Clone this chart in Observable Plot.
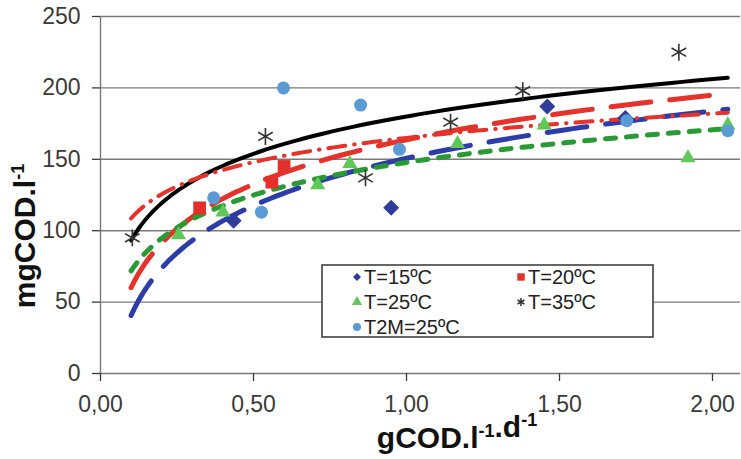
<!DOCTYPE html>
<html>
<head>
<meta charset="utf-8">
<script src="https://cdn.jsdelivr.net/npm/d3@7"></script>
<script src="https://cdn.jsdelivr.net/npm/@observablehq/plot@0.6"></script>
<style>
  body { margin: 0; background: #fff; }
  #chart { width: 741px; height: 459px; }
</style>
</head>
<body>
<div id="chart"></div>
<script>
// Axis ticks
const yTicks = [0, 50, 100, 150, 200, 250];
const xTicks = [0, 0.5, 1, 1.5, 2];

// Measured points per series (loading rate gCOD/l/d, concentration mgCOD/l)
const t15X = [0.435, 0.95, 1.46, 1.715];
const t15Y = [107, 116, 187, 179];
const t20X = [0.324, 0.56, 0.60];
const t20Y = [116, 134, 145];
const t25X = [0.255, 0.40, 0.71, 0.815, 1.167, 1.45, 1.92, 2.05];
const t25Y = [97, 113, 132, 147, 161, 174, 151, 174];
const t35X = [0.104, 0.539, 0.866, 1.144, 1.38, 1.89];
const t35Y = [95, 166, 137, 176, 198, 225];
const t2mX = [0.37, 0.526, 0.598, 0.85, 0.977, 1.72, 2.05];
const t2mY = [123, 113, 200, 188, 157, 177, 170];

// Logarithmic trendlines y = a·ln(x) + b, one per series
const seriesNames = ["T=15ºC", "T=20ºC", "T=25ºC", "T=35ºC", "T2M=25ºC"];
const trendA = [47.8, 45.0, 33.0, 37.7, 24.5];
const trendB = [150.7, 163.7, 147.8, 180.0, 165.0];
const trendRange = [0.1, 2.05];

const pts = (xs, ys) => xs.map((x, i) => ({x, y: ys[i]}));

function trend(k) {
  const [x0, x1] = trendRange;
  return d3.range(0, 161).map(i => {
    const x = x0 * Math.pow(x1 / x0, i / 160);
    return {x, y: trendA[k] * Math.log(x) + trendB[k]};
  });
}

const trendStyle = [
  {stroke: "#2c3ca8", strokeWidth: 5, strokeDasharray: "40,19"},
  {stroke: "#e5322b", strokeWidth: 5, strokeDasharray: "40,19"},
  {stroke: "#2a9a36", strokeWidth: 5, strokeDasharray: "10,11"},
  {stroke: "#000000", strokeWidth: 4},
  {stroke: "#e5322b", strokeWidth: 4, strokeDasharray: "17,9,0.5,9"}
];

const xMax = 640 / 306;

const plot = Plot.plot({
  width: 741,
  height: 459,
  marginLeft: 100,
  marginRight: 1,
  marginTop: 16,
  marginBottom: 86,
  style: {fontFamily: "'Liberation Sans', Arial, sans-serif", background: "#fff", overflow: "visible"},
  x: {domain: [0, xMax]},
  y: {domain: [0, 250]},
  marks: [
    Plot.ruleY(yTicks, {stroke: "#7a7a7a", strokeWidth: 1.4}),
    Plot.ruleX([0], {stroke: "#7a7a7a", strokeWidth: 1.4}),
    Plot.axisY({ticks: yTicks, tickSize: 8, tickPadding: 12, fontSize: 23, color: "#3a3a3a", strokeWidth: 1.3, label: null}),
    Plot.axisX({ticks: xTicks, tickSize: 8, tickPadding: 14, fontSize: 23, color: "#3a3a3a", strokeWidth: 1.3, label: null,
      tickFormat: d => d.toFixed(2).replace(".", ",")}),
    ...trendStyle.map((s, k) => Plot.line(trend(k), {x: "x", y: "y", strokeLinecap: "round", ...s})),
    Plot.dot(pts(t15X, t15Y), {x: "x", y: "y", symbol: "diamond2", r: 7.2, fill: "#2e3c9c", stroke: "none"}),
    Plot.dot(pts(t20X, t20Y), {x: "x", y: "y", symbol: "square", r: 7.2, fill: "#e3302a", stroke: "none"}),
    Plot.dot(pts(t25X, t25Y), {x: "x", y: "y", symbol: "triangle", r: 5.6, fill: "#5fc857", stroke: "none"}),
    Plot.dot(pts(t35X, t35Y), {x: "x", y: "y", symbol: "asterisk", r: 8, stroke: "#333", strokeWidth: 1.6}),
    Plot.dot(pts(t2mX, t2mY), {x: "x", y: "y", symbol: "circle", r: 6.5, fill: "#5b9bd5", stroke: "none"})
  ]
});

document.getElementById("chart").appendChild(plot);

const svg = d3.select(plot);
const font = "'Liberation Sans', Arial, sans-serif";

// Axis titles with superscript exponents
function title(g, parts) {
  const t = g.append("text")
    .attr("text-anchor", "middle")
    .attr("font-family", font)
    .attr("font-weight", "bold")
    .attr("font-size", 30)
    .attr("fill", "#111");
  parts.forEach(([s, sup]) => {
    t.append("tspan")
      .attr("dy", sup ? -11 : 0)
      .attr("font-size", sup ? 18 : 30)
      .text(s);
    if (sup) t.append("tspan").attr("dy", 11).text("");
  });
  return t;
}
title(svg.append("g").attr("transform", "translate(35,236) rotate(-90)"),
  [["mgCOD.l", false], ["-1", true]]);
title(svg.append("g").attr("transform", "translate(457,448)"),
  [["gCOD.l", false], ["-1", true], [".d", false], ["-1", true]]);

// Legend
const legend = [
  {name: seriesNames[0], symbol: d3.symbolDiamond2, size: 40, fill: "#2e3c9c", col: 0, row: 0},
  {name: seriesNames[1], symbol: d3.symbolSquare, size: 55, fill: "#e3302a", col: 1, row: 0},
  {name: seriesNames[2], symbol: d3.symbolTriangle, size: 45, fill: "#5fc857", col: 0, row: 1},
  {name: seriesNames[3], symbol: d3.symbolAsterisk, size: 45, stroke: "#333", col: 1, row: 1},
  {name: seriesNames[4], symbol: d3.symbolCircle, size: 50, fill: "#5b9bd5", col: 0, row: 2}
];
const lg = svg.append("g").attr("text-anchor", "start");
lg.append("rect")
  .attr("x", 322).attr("y", 265).attr("width", 331).attr("height", 72)
  .attr("fill", "#fff").attr("stroke", "#404040").attr("stroke-width", 1.6);
legend.forEach(e => {
  const cx = e.col ? 521 : 357;
  const cy = 277 + e.row * 25;
  lg.append("path")
    .attr("transform", `translate(${cx},${cy})`)
    .attr("d", d3.symbol(e.symbol, e.size)())
    .attr("fill", e.fill || "none")
    .attr("stroke", e.stroke || "none")
    .attr("stroke-width", 1.5);
  lg.append("text")
    .attr("x", cx + 7).attr("y", cy).attr("dy", "0.36em")
    .attr("text-anchor", "start")
    .attr("font-family", font).attr("font-size", 20).attr("fill", "#222")
    .text(e.name);
});
</script>
</body>
</html>
